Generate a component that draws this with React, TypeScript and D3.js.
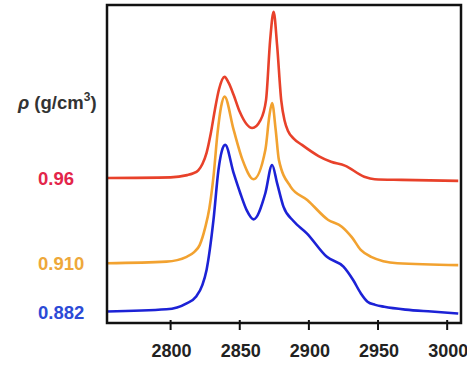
import React from 'react';
import * as d3 from 'd3';

// wavenumber (cm-1) / intensity (a.u., offset per density)
const redX = [2754, 2800, 2812, 2816, 2820, 2823, 2826, 2829, 2832, 2835, 2839, 2842, 2845.6, 2850, 2859, 2865, 2869, 2872, 2874.5, 2877, 2880, 2882.5, 2885, 2889, 2895, 2907, 2916, 2926, 2940, 2947.6, 2967, 3008];
const redY = [45.6, 45.8, 46.5, 47.0, 48.0, 50.0, 53.5, 59.5, 67.0, 73.5, 77.4, 75.5, 71.7, 66.4, 61.3, 63.8, 70.1, 89.0, 97.9, 87.4, 70.0, 63.5, 60.3, 58.0, 56.0, 52.5, 50.7, 49.5, 46.0, 45.2, 45.0, 44.7];

const orangeX = [2754, 2797, 2811.6, 2817, 2821, 2825, 2828, 2831, 2834, 2836.5, 2839, 2845.6, 2852, 2860, 2868.5, 2871.5, 2873.4, 2876, 2878.3, 2886.7, 2898.8, 2914, 2923.8, 2931, 2937.5, 2945, 2964, 3008];
const orangeY = [18.8, 19.3, 20.8, 22.3, 24.5, 30.0, 36.0, 46.0, 60.0, 68.0, 71.2, 60.7, 51.3, 45.2, 54.4, 65.4, 69.2, 60.7, 51.3, 42.9, 38.7, 32.4, 30.3, 27.0, 23.0, 20.8, 18.8, 18.2];

const blueX = [2754, 2797, 2811.6, 2818.5, 2823, 2826, 2831, 2834.6, 2837, 2839.5, 2845.6, 2850.4, 2855, 2860, 2868.5, 2873.4, 2877, 2881.6, 2889, 2898.5, 2913, 2925, 2932, 2937.6, 2942.4, 2948, 2954.5, 2970, 2988.6, 3008];
const blueY = [3.6, 4.3, 6.2, 8.3, 12.0, 16.7, 32.4, 48.1, 54.0, 56.0, 47.1, 40.8, 35.5, 32.6, 40.8, 49.7, 44.0, 36.6, 32.0, 28.2, 20.8, 17.7, 13.5, 9.3, 6.7, 5.7, 5.1, 4.2, 3.6, 3.0];

const densityLabels = ['0.96', '0.910', '0.882'];
const seriesColors = ['#e8412a', '#f2a230', '#1c22d6'];
const labelColors = ['#e3254a', '#eea83a', '#2c4ad6'];

const series = [
  { xs: redX, ys: redY },
  { xs: orangeX, ys: orangeY },
  { xs: blueX, ys: blueY },
];

export default function App() {
  const width = 467;
  const height = 365;
  const left = 107, right = 461, top = 5, bottom = 323;

  const x = d3.scaleLinear().domain([2754, 3010]).range([left, right]);
  const y = d3.scaleLinear().domain([0, 100]).range([bottom, top]);

  const line = d3.line<[number, number]>()
    .x(d => x(d[0]))
    .y(d => y(d[1]))
    .curve(d3.curveMonotoneX);

  const ticks = x.ticks(5);
  const font = '"Liberation Sans", Arial, sans-serif';

  // label rows line up with each curve's baseline
  const labelY = [y(redY[0]), y(orangeY[0]), y(blueY[0])];

  return (
    <svg width={width} height={height} style={{ position: 'absolute', left: 0, top: 0 }}>
      <rect x={0} y={0} width={width} height={height} fill="#fff" />
      {series.map((s, i) => (
        <path key={i}
          d={line(s.xs.map((v, j) => [v, s.ys[j]] as [number, number])) || ''}
          fill="none" stroke={seriesColors[i]} strokeWidth={2.6} strokeLinejoin="round" />
      ))}
      <rect x={left} y={top} width={right - left} height={bottom - top}
        fill="none" stroke="#111" strokeWidth={2.5} />
      {ticks.map(t => (
        <g key={t}>
          <line x1={x(t)} x2={x(t)} y1={bottom - 3} y2={bottom + 7} stroke="#111" strokeWidth={2} />
          <text x={x(t) + 1} y={357} textAnchor="middle" fontFamily={font} fontWeight="bold"
            fontSize={18} fill="#222">{t}</text>
        </g>
      ))}
      <text x={18} y={109} fontFamily={font} fontWeight="bold" fontSize={18.5} fill="#333">
        <tspan fontStyle="italic">ρ</tspan> (g/cm<tspan dy={-8} fontSize={12}>3</tspan><tspan dy={8}>)</tspan>
      </text>
      {densityLabels.map((lab, i) => (
        <text key={lab} x={38} y={labelY[i] + 7} fontFamily={font} fontWeight="bold"
          fontSize={18.5} fill={labelColors[i]}>{lab}</text>
      ))}
    </svg>
  );
}
